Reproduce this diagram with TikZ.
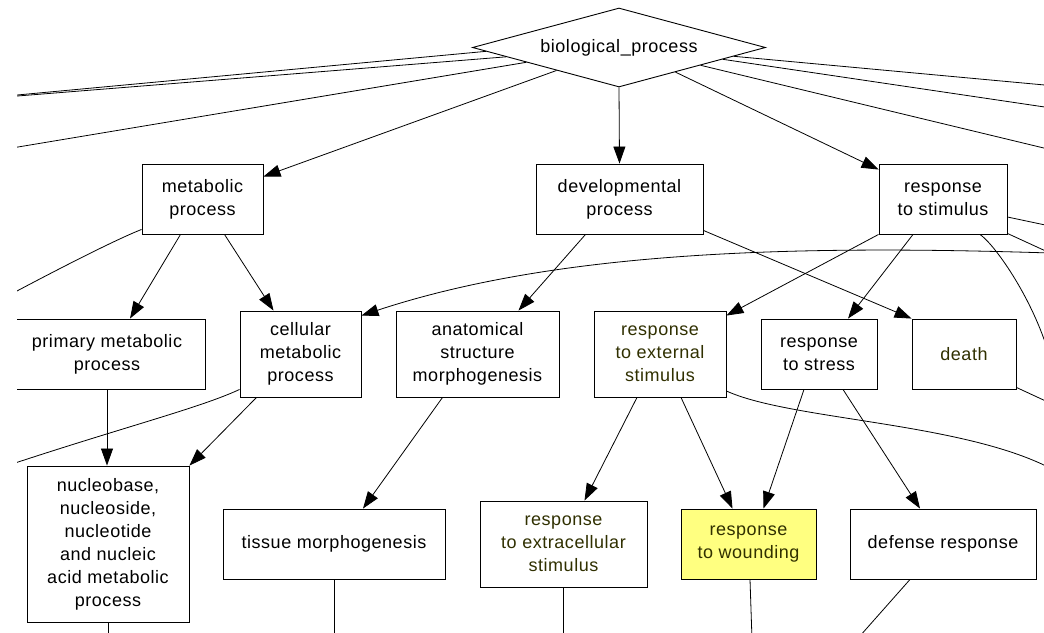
\documentclass[tikz,border=0pt]{standalone}
\usepackage{fontspec}
\setmainfont{Liberation Sans}[LetterSpace=3]
\usepackage{tikz}
\usetikzlibrary{arrows.meta,calc,shapes.geometric}
\definecolor{woundfill}{RGB}{255,255,128}
\definecolor{olivetext}{RGB}{48,48,0}

\begin{document}
\begin{tikzpicture}[
  x=1pt, y=-1pt,
  termbox/.style={draw, line width=0.9pt, fill=white, align=center, inner sep=0pt, font=\fontsize{18}{23}\selectfont},
  rootbox/.style={termbox, diamond, aspect=3.7, minimum width=293pt, minimum height=79pt},
  marked/.style={text=olivetext},
  arrow/.style={-{Triangle[length=17pt,width=12pt]}, line width=0.8pt},
  link/.style={line width=0.8pt}
]
  \useasboundingbox (0,0) rectangle (1044,632);
  \clip (17,-2) rectangle (1046,634);

  % terms
  \node[rootbox] (bio) at (619,47.5) {biological\_process};
  \node[termbox, minimum width=121pt, minimum height=70pt] (meta) at (202.5,199) {metabolic\\process};
  \node[termbox, minimum width=167pt, minimum height=70pt] (devel) at (619.5,199) {developmental\\process};
  \node[termbox, minimum width=128pt, minimum height=70pt] (stim) at (943,199) {response\\to stimulus};
  \node[termbox, minimum width=196pt, minimum height=70pt] (prim) at (107,354) {primary metabolic\\process};
  \node[termbox, minimum width=121pt, minimum height=86pt] (cell) at (300.5,354) {cellular\\metabolic\\process};
  \node[termbox, minimum width=163pt, minimum height=86pt] (anat) at (477.5,354) {anatomical\\structure\\morphogenesis};
  \node[termbox, marked, minimum width=132pt, minimum height=86pt] (ext) at (660,354) {response\\to external\\stimulus};
  \node[termbox, minimum width=116pt, minimum height=70pt] (stress) at (819,354) {response\\to stress};
  \node[termbox, marked, minimum width=104pt, minimum height=70pt] (death) at (964,354) {death};
  \node[termbox, minimum width=162pt, minimum height=156pt] (nucl) at (108,544) {nucleobase,\\nucleoside,\\nucleotide\\and nucleic\\acid metabolic\\process};
  \node[termbox, minimum width=222pt, minimum height=70pt] (tissue) at (334,544) {tissue morphogenesis};
  \node[termbox, marked, minimum width=167pt, minimum height=86pt] (extra) at (563.5,544) {response\\to extracellular\\stimulus};
  \node[termbox, marked, fill=woundfill, minimum width=135pt, minimum height=70pt] (wound) at (748.5,544) {response\\to wounding};
  \node[termbox, minimum width=186pt, minimum height=70pt] (def) at (943,544) {defense response};

  % loose ends outside the view
  \coordinate (offL1) at (0,96.6);
  \coordinate (offL2) at (0,97.4);
  \coordinate (offL3) at (0,150);
  \coordinate (offR1) at (1050,85.5);
  \coordinate (offR2) at (1050,107.8);
  \coordinate (offR3) at (1050,149.5);
  \coordinate (offR4) at (1050,226);
  \coordinate (offR5) at (1050,253);
  \coordinate (offR6) at (1050,253);
  \coordinate (offR7) at (1047,348);
  \coordinate (offR8) at (1050,403);
  \coordinate (offR9) at (1050,468);
  \coordinate (offL4) at (0,300);
  \coordinate (offL5) at (0,468);

  % is_a arrows
  \draw[arrow] ($(bio.west)!0.575!(bio.south)$) -- ($(meta.north east)+(0,13)$);
  \draw[arrow] (bio.south) -- (devel.north);
  \draw[arrow] ($(bio.south)!0.384!(bio.east)$) -- ($(stim.north west)+(0,6)$);
  \draw[arrow] ($(meta.south)+(-22,0)$) -- ($(prim.north)+(23,0)$);
  \draw[arrow] ($(meta.south)+(22,0)$) -- ($(cell.north)+(-27,0)$);
  \draw[arrow] ($(devel.south)+(-34,0)$) -- ($(anat.north)+(41,0)$);
  \draw[arrow] ($(devel.south east)+(0,-4)$) -- (death.north west);
  \draw[arrow] (stim.south west) -- ($(ext.north east)+(0,5)$);
  \draw[arrow] ($(stim.south)+(-30,0)$) -- ($(stress.north)+(29,0)$);
  \draw[arrow] (offR6) .. controls (800,245) and (560,250) .. ($(cell.north east)+(0,5)$);
  \draw[arrow] ($(ext.south)+(-23,0)$) -- ($(extra.north)+(21,0)$);
  \draw[arrow] ($(ext.south)+(21,0)$) -- ($(wound.north)+(-16,0)$);
  \draw[arrow] ($(stress.south)+(-15,0)$) -- ($(wound.north)+(15,0)$);
  \draw[arrow] ($(stress.south)+(24,0)$) -- ($(def.north)+(-23,0)$);
  \draw[arrow] (prim.south) -- (prim.south |- nucl.north);
  \draw[arrow] ($(cell.south)+(-44,0)$) -- (nucl.north east);
  \draw[arrow] ($(anat.south)+(-35,0)$) -- ($(tissue.north)+(29,0)$);

  % edges leaving the view
  \draw[link] ($(bio.west)!0.096!(bio.south)$) -- (offL1);
  \draw[link] ($(bio.west)!0.233!(bio.south)$) -- (offL2);
  \draw[link] ($(bio.west)!0.37!(bio.south)$) -- (offL3);
  \draw[link] ($(bio.south)!0.78!(bio.east)$) -- (offR1);
  \draw[link] ($(bio.south)!0.705!(bio.east)$) -- (offR2);
  \draw[link] ($(bio.south)!0.555!(bio.east)$) -- (offR3);
  \draw[link] ($(stim.east)+(0,18)$) -- (offR4);
  \draw[link] ($(stim.south east)+(0,-1)$) -- (offR5);
  \draw[link] ($(stim.south)+(37,0)$) .. controls (995,245) and (1030,295) .. (offR7);
  \draw[link] ($(death.south east)+(0,-2)$) -- (offR8);
  \draw[link] ($(ext.east)+(0,37)$) .. controls (790,420) and (960,422) .. (offR9);
  \draw[link] ($(meta.south west)+(0,-5)$) .. controls (115,240) and (60,268) .. (offL4);
  \draw[link] ($(cell.south west)+(0,-8)$) .. controls (200,408) and (120,428) .. (offL5);
  \draw[link] (nucl.south) -- ++(0,20);
  \draw[link] (tissue.south) -- ++(0,60);
  \draw[link] (extra.south) -- ++(0,52);
  \draw[link] ($(wound.south)+(1.5,0)$) -- ++(2,60);
  \draw[link] ($(def.south)+(-33,0)$) -- ++(-54,61);
\end{tikzpicture}
\end{document}
